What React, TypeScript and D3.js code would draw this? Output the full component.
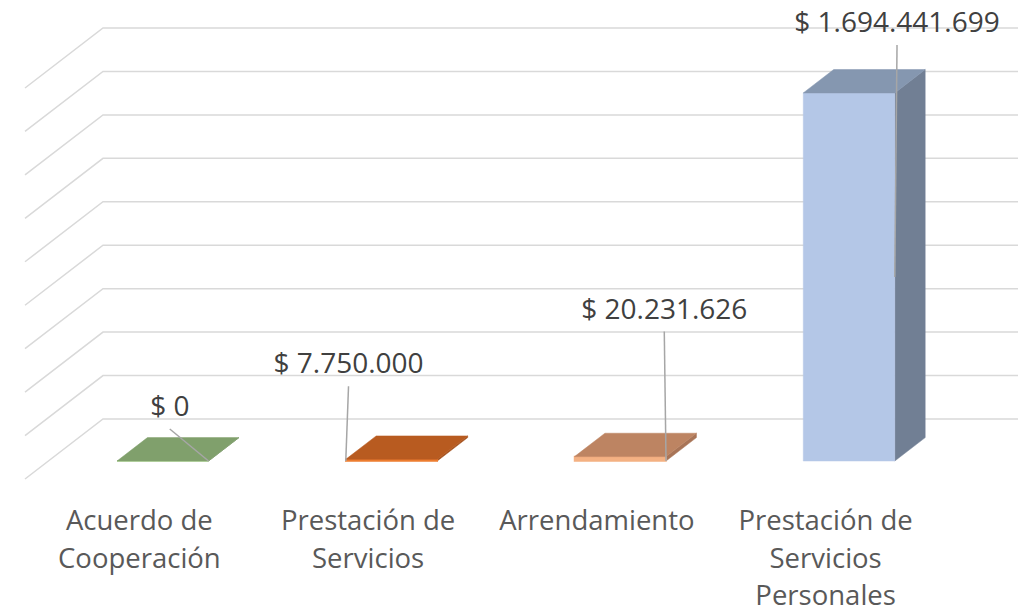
import React from "react";
import * as d3 from "d3";

// chart data
const categories = ["Acuerdo de Cooperación", "Prestación de Servicios", "Arrendamiento", "Prestación de Servicios Personales"];
const categoryLines = [["Acuerdo de", "Cooperación"], ["Prestación de", "Servicios"], ["Arrendamiento"], ["Prestación de", "Servicios", "Personales"]];
const values = [0, 7750000, 20231626, 1694441699];
const gridTicks = [0, 200000000, 400000000, 600000000, 800000000, 1000000000, 1200000000, 1400000000, 1600000000, 1800000000];

// colours per bar: front, top, side
const fronts = ["#A9D18E", "#ED7D31", "#F4B183", "#B4C7E7"];
const tops = ["#80A06C", "#B85B20", "#BD8462", "#8597B0"];
const sides = ["#6F8C5E", "#A34F1B", "#A87457", "#717F94"];

// label placement relative to bar front-top centre (px), and leader end on the front face (fraction x, fraction h)
const labelOffsets = [[7, -45], [-43, -86], [44, -138], [48, -61]];
const leaderEnds = [[1, 0], [0, 0], [1, 0], [1, 0.5]];

const W = 1032, H = 612;
const floorX0 = 25, floorX1 = 940, floorY = 479;
const depthX = 78, depthY = -60;
const zFront = 0.3, zBack = 0.69;

const esLocale = d3.formatLocale({ decimal: ",", thousands: ".", grouping: [3], currency: ["$ ", ""] });
const fmt = esLocale.format("$,.0f");

export default function App() {
    const x = d3.scaleBand<string>().domain(categories).range([floorX0, floorX1]).padding(0);
    const y = d3.scaleLinear().domain([0, 1800000000]).range([0, 391]);

    const proj = (px: number, h: number, z: number): [number, number] => [px + z * depthX, floorY - h - z * depthY * -1];
    const pts = (arr: [number, number][]) => arr.map(p => p.join(",")).join(" ");

    const barW = x.step() / 2.5;

    return (
        <svg width={W} height={H} style={{ position: "absolute", left: 0, top: 0, background: "#fff" }}
             fontFamily="'Open Sans', sans-serif">
            <g stroke="#D9D9D9" strokeWidth={1.5} fill="none">
                {gridTicks.map(t => {
                    const a = proj(floorX0, y(t), 0);
                    const b = proj(floorX0, y(t), 1);
                    const c = proj(floorX1, y(t), 1);
                    return <polyline key={t} points={pts([a, b, c])} />;
                })}
            </g>
            {values.map((v, i) => {
                const cx = x(categories[i])! + x.bandwidth() / 2;
                const x0 = cx - barW / 2, x1 = cx + barW / 2;
                const h = y(v);
                const front = [proj(x0, 0, zFront), proj(x1, 0, zFront), proj(x1, h, zFront), proj(x0, h, zFront)];
                const top = [proj(x0, h, zFront), proj(x1, h, zFront), proj(x1, h, zBack), proj(x0, h, zBack)];
                const side = [proj(x1, 0, zFront), proj(x1, 0, zBack), proj(x1, h, zBack), proj(x1, h, zFront)];
                return (
                    <g key={i}>
                        <polygon points={pts(side)} fill={sides[i]} stroke={sides[i]} strokeWidth={0.5} />
                        <polygon points={pts(front)} fill={fronts[i]} stroke={fronts[i]} strokeWidth={h < 6 ? 1.5 : 0.5} />
                        <polygon points={pts(top)} fill={tops[i]} stroke={tops[i]} strokeWidth={0.5} />
                    </g>
                );
            })}
            {values.map((v, i) => {
                const cx = x(categories[i])! + x.bandwidth() / 2;
                const x0 = cx - barW / 2;
                const h = y(v);
                const [fx, fy] = proj(cx, h, zFront);
                const lx = fx + labelOffsets[i][0];
                const ly = fy + labelOffsets[i][1];
                const [ex, ey] = proj(x0 + barW * leaderEnds[i][0], h * leaderEnds[i][1], zFront);
                return (
                    <g key={"l" + i}>
                        <line x1={lx} y1={ly + 13} x2={ex} y2={ey} stroke="#A6A6A6" strokeWidth={1.5} />
                        <text x={lx} y={ly} textAnchor="middle" fontSize={28} fill="#404040">{fmt(v)}</text>
                    </g>
                );
            })}
            <g fontSize={27.5} fill="#595959" textAnchor="middle">
                {categoryLines.map((lines, i) => (
                    <text key={i} x={x(categories[i])! + x.bandwidth() / 2} y={530}>
                        {lines.map((ln, j) => (
                            <tspan key={j} x={x(categories[i])! + x.bandwidth() / 2} dy={j === 0 ? 0 : 37.5}>{ln}</tspan>
                        ))}
                    </text>
                ))}
            </g>
        </svg>
    );
}
